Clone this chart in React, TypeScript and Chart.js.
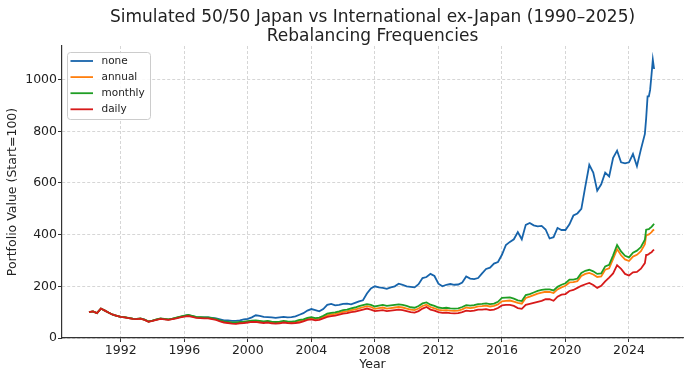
import React, { useEffect, useRef } from "react";
import { Chart, registerables } from "chart.js";
Chart.register(...registerables);

// Decimal years (quarterly, then monthly in 2025)
const years = [
  1990, 1990.25, 1990.5, 1990.75,
  1991, 1991.25, 1991.5, 1991.75,
  1992, 1992.25, 1992.5, 1992.75,
  1993, 1993.25, 1993.5, 1993.75,
  1994, 1994.25, 1994.5, 1994.75,
  1995, 1995.25, 1995.5, 1995.75,
  1996, 1996.25, 1996.5, 1996.75,
  1997, 1997.25, 1997.5, 1997.75,
  1998, 1998.25, 1998.5, 1998.75,
  1999, 1999.25, 1999.5, 1999.75,
  2000, 2000.25, 2000.5, 2000.75,
  2001, 2001.25, 2001.5, 2001.75,
  2002, 2002.25, 2002.5, 2002.75,
  2003, 2003.25, 2003.5, 2003.75,
  2004, 2004.25, 2004.5, 2004.75,
  2005, 2005.25, 2005.5, 2005.75,
  2006, 2006.25, 2006.5, 2006.75,
  2007, 2007.25, 2007.5, 2007.75,
  2008, 2008.25, 2008.5, 2008.75,
  2009, 2009.25, 2009.5, 2009.75,
  2010, 2010.25, 2010.5, 2010.75,
  2011, 2011.25, 2011.5, 2011.75,
  2012, 2012.25, 2012.5, 2012.75,
  2013, 2013.25, 2013.5, 2013.75,
  2014, 2014.25, 2014.5, 2014.75,
  2015, 2015.25, 2015.5, 2015.75,
  2016, 2016.25, 2016.5, 2016.75,
  2017, 2017.25, 2017.5, 2017.75,
  2018, 2018.25, 2018.5, 2018.75,
  2019, 2019.25, 2019.5, 2019.75,
  2020, 2020.25, 2020.5, 2020.75,
  2021, 2021.25, 2021.5, 2021.75,
  2022, 2022.25, 2022.5, 2022.75,
  2023, 2023.25, 2023.5, 2023.75,
  2024, 2024.25, 2024.5, 2024.75,
  2025, 2025.08, 2025.17, 2025.25, 2025.33, 2025.42, 2025.5, 2025.58,
];

const noneValues = [
  100, 103, 96, 114,
  106, 98, 90, 86,
  82, 80, 77, 75,
  74, 75, 71, 64,
  67, 71, 75, 73,
  71, 74, 78, 82,
  86, 88, 85, 81,
  80, 80, 80, 78,
  76, 72, 68, 68,
  66, 66, 68, 72,
  74, 80, 88, 86,
  82, 81, 80, 78,
  80, 82, 80, 81,
  84, 90, 96, 106,
  112, 108, 103, 112,
  128, 132, 126, 128,
  132, 133, 130, 136,
  142, 146, 172, 192,
  200, 196, 194, 190,
  196, 200, 210, 206,
  200, 198, 196, 208,
  232, 236, 248, 240,
  210, 200, 206, 209,
  206, 207, 215, 238,
  230, 228, 232, 250,
  267, 272, 288, 294,
  322, 360, 372, 382,
  410, 382, 438, 445,
  436, 432, 434, 420,
  385, 390, 426, 418,
  418, 440, 474, 482,
  500, 587, 670, 640,
  570, 595, 640, 625,
  697, 725, 680, 676,
  680, 712, 665, 730,
  790, 850, 935, 935, 960, 1020, 1077, 1041,
];

const annualValues = [
  100, 103, 96, 114,
  106, 98, 90, 86,
  82, 80, 77, 75,
  74, 75, 70, 64,
  67, 71, 75, 73,
  71, 74, 78, 82,
  85, 87, 84, 80,
  79, 78, 78, 75,
  72, 66, 62, 60,
  58, 57, 59, 61,
  63, 65, 65, 63,
  61, 63, 60, 59,
  60, 63, 61, 60,
  62, 66, 68, 74,
  77, 73, 75, 81,
  88, 91, 93, 97,
  101, 103, 108, 110,
  115, 119, 123, 120,
  113, 116, 118, 114,
  116, 118, 120, 118,
  114, 110, 108, 114,
  124, 129, 120, 115,
  109, 107, 108, 106,
  105, 106, 111, 118,
  116, 118, 122, 123,
  125, 122, 124, 130,
  142, 144, 145, 141,
  136, 133, 155, 160,
  166, 172, 176, 179,
  178, 174, 188, 196,
  202, 215, 216, 220,
  240, 248, 252, 246,
  236, 238, 264, 270,
  306, 344, 320, 304,
  298, 315, 322, 336,
  363, 398, 399, 401, 405, 410, 416, 420,
];

const monthlyValues = [
  100, 103, 96, 114,
  106, 98, 90, 86,
  82, 81, 78, 75,
  74, 76, 71, 64,
  67, 72, 76, 74,
  72, 75, 79, 83,
  87, 89, 86, 82,
  81, 80, 80, 77,
  74, 68, 64, 62,
  60, 60, 62, 63,
  65, 67, 68, 66,
  64, 66, 63, 62,
  63, 66, 64, 63,
  65, 70, 72, 78,
  81, 77, 79, 86,
  94, 97, 99, 103,
  108, 110, 115, 118,
  123, 127, 131, 128,
  122, 125, 128, 124,
  126, 128, 130, 128,
  124, 119, 117, 124,
  134, 138, 129, 124,
  118, 116, 117, 115,
  114, 115, 120, 127,
  125, 127, 131, 132,
  134, 131, 133, 140,
  155, 156, 157, 152,
  146, 143, 166, 170,
  176, 182, 186, 188,
  188, 184, 198, 206,
  212, 226, 226, 230,
  252, 260, 264, 258,
  248, 250, 277, 283,
  320, 360, 335, 318,
  312, 330, 338, 352,
  380, 419, 420, 421, 426, 430, 436, 442,
];

const dailyValues = [
  100, 103, 96, 114,
  106, 98, 90, 86,
  82, 80, 77, 74,
  73, 75, 70, 63,
  66, 70, 74, 72,
  70, 73, 76, 80,
  83, 85, 82, 78,
  77, 76, 76, 73,
  70, 64, 60, 58,
  56, 55, 57, 58,
  60, 62, 62, 60,
  58, 60, 57, 56,
  57, 60, 58, 57,
  58, 60, 64, 70,
  72, 68, 70, 76,
  82, 85, 87, 90,
  94, 96, 100, 102,
  106, 110, 114, 110,
  104, 106, 108, 104,
  106, 108, 110, 108,
  104, 100, 98, 104,
  114, 120, 110, 106,
  100, 97, 98, 96,
  95, 96, 100, 106,
  104, 106, 110, 110,
  112, 108, 110, 116,
  126, 128, 128, 124,
  116, 113, 128, 132,
  136, 140, 144, 150,
  150, 144, 160, 168,
  170, 182, 186, 194,
  202, 208, 213, 205,
  194, 202, 219, 234,
  250, 282, 268, 248,
  242, 254, 256, 268,
  290, 322, 322, 325, 329, 332, 338, 342,
];

const seriesLabels = ["none", "annual", "monthly", "daily"];
const seriesColors = ["#1764ab", "#ff7f0e", "#1f9e24", "#d71a1a"];
const xTicks = [1992, 1996, 2000, 2004, 2008, 2012, 2016, 2020, 2024];
const yTicks = [0, 200, 400, 600, 800, 1000];
const titleLines = [
  "Simulated 50/50 Japan vs International ex-Japan (1990–2025)",
  "Rebalancing Frequencies",
];
const xLabel = "Year";
const yLabel = "Portfolio Value (Start=100)";

const FONT = '"DejaVu Sans", sans-serif';

const titlePlugin = {
  id: "mplTitle",
  afterDraw(chart: any) {
    const { ctx, chartArea } = chart;
    const cx = (chartArea.left + chartArea.right) / 2;
    ctx.save();
    ctx.fillStyle = "#222";
    ctx.font = `17px ${FONT}`;
    ctx.textAlign = "center";
    ctx.textBaseline = "alphabetic";
    ctx.fillText(titleLines[0], cx, 22);
    ctx.fillText(titleLines[1], cx, 41);
    ctx.restore();
  },
};

const legendPlugin = {
  id: "mplLegend",
  afterDraw(chart: any) {
    const { ctx } = chart;
    const x0 = 67.5, y0 = 52.5, w = 83, h = 67, r = 3;
    ctx.save();
    ctx.beginPath();
    ctx.moveTo(x0 + r, y0);
    ctx.lineTo(x0 + w - r, y0);
    ctx.arcTo(x0 + w, y0, x0 + w, y0 + r, r);
    ctx.lineTo(x0 + w, y0 + h - r);
    ctx.arcTo(x0 + w, y0 + h, x0 + w - r, y0 + h, r);
    ctx.lineTo(x0 + r, y0 + h);
    ctx.arcTo(x0, y0 + h, x0, y0 + h - r, r);
    ctx.lineTo(x0, y0 + r);
    ctx.arcTo(x0, y0, x0 + r, y0, r);
    ctx.closePath();
    ctx.fillStyle = "rgba(255,255,255,0.85)";
    ctx.fill();
    ctx.strokeStyle = "#cccccc";
    ctx.lineWidth = 1;
    ctx.stroke();
    ctx.font = `10.5px ${FONT}`;
    ctx.textBaseline = "middle";
    ctx.textAlign = "left";
    seriesLabels.forEach((label, i) => {
      const y = 61 + i * 16.1;
      ctx.beginPath();
      ctx.strokeStyle = seriesColors[i];
      ctx.lineWidth = 1.8;
      ctx.moveTo(70.5, y);
      ctx.lineTo(93, y);
      ctx.stroke();
      ctx.fillStyle = "#222";
      ctx.fillText(label, 101.5, y);
    });
    ctx.restore();
  },
};

export default function App() {
  const canvasRef = useRef<HTMLCanvasElement | null>(null);

  useEffect(() => {
    if (!canvasRef.current) return;
    const allSeries = [noneValues, annualValues, monthlyValues, dailyValues];
    const datasets = allSeries.map((vals, si) => ({
      label: seriesLabels[si],
      data: years.map((x, i) => ({ x, y: vals[i] })),
      borderColor: seriesColors[si],
      backgroundColor: seriesColors[si],
      borderWidth: 1.8,
      pointRadius: 0,
      tension: 0,
      fill: false,
      order: 3 - si,
    }));

    const tickFont = { family: FONT, size: 12.5 };

    const chart = new Chart(canvasRef.current, {
      type: "line",
      data: { datasets },
      options: {
        animation: false,
        responsive: false,
        devicePixelRatio: 1,
        layout: { padding: { top: 46, right: 7, left: 0, bottom: 0 } },
        plugins: {
          legend: { display: false },
          title: { display: false },
          tooltip: { enabled: false },
        },
        scales: {
          x: {
            type: "linear",
            min: 1988.3,
            max: 2027.4,
            afterBuildTicks: (s: any) => {
              s.ticks = xTicks.map((v) => ({ value: v }));
            },
            afterFit: (s: any) => {
              s.height = 42;
            },
            ticks: {
              autoSkip: false,
              maxRotation: 0,
              color: "#222",
              font: tickFont,
              padding: 1,
              callback: (v: any) => String(v),
            },
            grid: {
              color: "#cccccc",
              lineWidth: 0.8,
              drawTicks: true,
              tickLength: 4,
              tickColor: "#333",
              tickWidth: 1,
            },
            border: { display: true, color: "#333", width: 1.2, dash: [3, 2] },
            title: {
              display: true,
              text: xLabel,
              color: "#222",
              font: tickFont,
              padding: { top: 0, bottom: 8 },
            },
          },
          y: {
            type: "linear",
            min: 0,
            max: 1130,
            afterBuildTicks: (s: any) => {
              s.ticks = yTicks.map((v) => ({ value: v }));
            },
            afterFit: (s: any) => {
              s.width = 62;
            },
            ticks: {
              autoSkip: false,
              color: "#222",
              font: tickFont,
              padding: 1,
              callback: (v: any) => String(v),
            },
            grid: {
              color: "#cccccc",
              lineWidth: 0.8,
              drawTicks: true,
              tickLength: 4,
              tickColor: "#333",
              tickWidth: 1,
            },
            border: { display: true, color: "#333", width: 1.2, dash: [3, 2] },
            title: {
              display: true,
              text: yLabel,
              color: "#222",
              font: tickFont,
              padding: { top: 5.5, bottom: 0 },
            },
          },
        },
      },
      plugins: [titlePlugin, legendPlugin],
    } as any);

    return () => chart.destroy();
  }, []);

  return (
    <div style={{ position: "fixed", left: 0, top: 0, width: 690, height: 380, background: "#fff" }}>
      <canvas ref={canvasRef} width={690} height={380} style={{ display: "block", width: 690, height: 380 }} />
    </div>
  );
}
